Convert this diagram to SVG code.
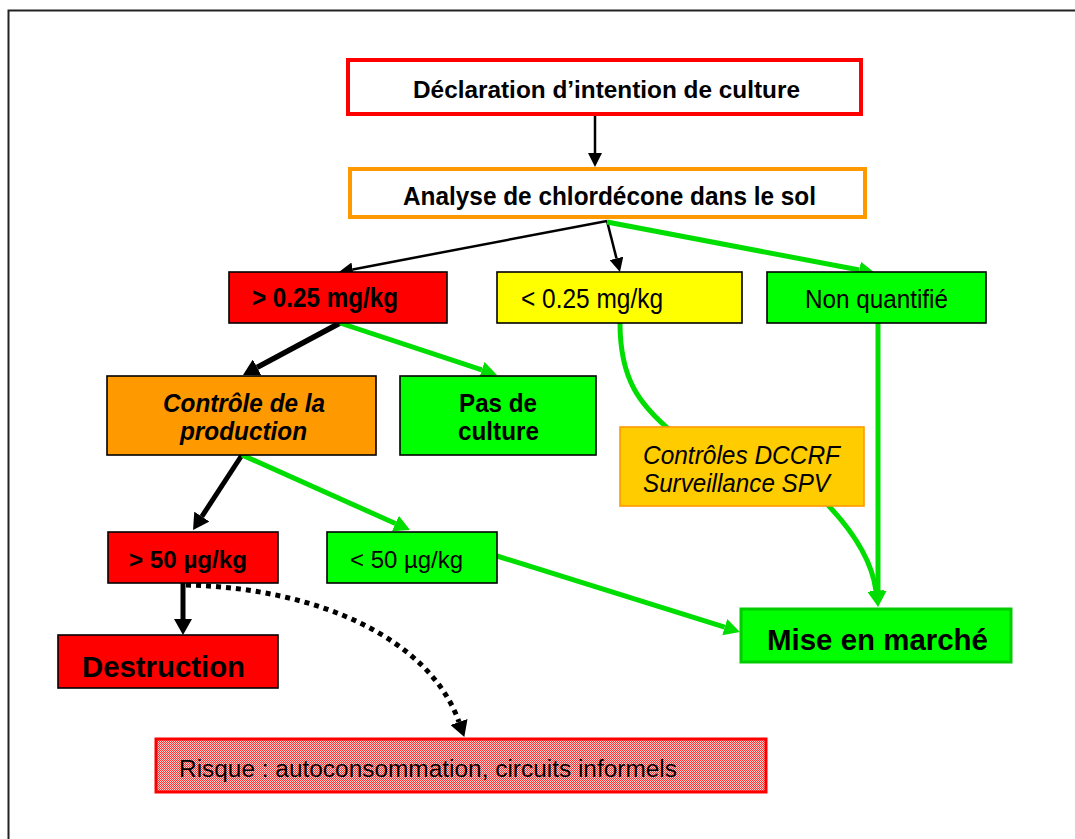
<svg xmlns="http://www.w3.org/2000/svg" width="1075" height="839" viewBox="0 0 1075 839">
<style>
  text { font-family: "Liberation Sans", Arial, sans-serif; fill: #000; }
  .b { font-weight: bold; }
  .i { font-style: italic; }
  .box { stroke: #000; stroke-width: 1.6; }
  .cb { fill: none; stroke: #000; }
  .cg { fill: none; stroke: #00DD00; stroke-width: 5; }
</style>
<defs>
  <marker id="ab" viewBox="0 0 10 10" refX="0" refY="5" markerWidth="14" markerHeight="14" markerUnits="userSpaceOnUse" orient="auto">
    <path d="M0,0 L10,5 L0,10 z" fill="#000"/>
  </marker>
  <marker id="abt" viewBox="0 0 10 10" refX="0" refY="5" markerWidth="16" markerHeight="18" markerUnits="userSpaceOnUse" orient="auto" preserveAspectRatio="none">
    <path d="M0,0 L10,5 L0,10 z" fill="#000"/>
  </marker>
  <marker id="ag" viewBox="0 0 10 10" refX="0" refY="5" markerWidth="16" markerHeight="17" markerUnits="userSpaceOnUse" orient="auto" preserveAspectRatio="none">
    <path d="M0,0 L10,5 L0,10 z" fill="#00DD00"/>
  </marker>
  <pattern id="hatch" width="2" height="2" patternUnits="userSpaceOnUse">
    <rect width="2" height="2" fill="#FFD0D0"/>
    <rect width="1" height="1" fill="#FF3030"/>
    <rect x="1" y="1" width="1" height="1" fill="#FF3030"/>
  </pattern>
</defs>
<rect width="1075" height="839" fill="#fff"/>
<rect x="8.5" y="10.5" width="1100" height="900" fill="none" stroke="#222" stroke-width="2"/>

<g id="connectors">
  <path class="cb" stroke-width="2.5" d="M595,116 L595,153" marker-end="url(#ab)"/>
  <path class="cb" stroke-width="2.5" d="M607,221 L352.7,269.4" marker-end="url(#ab)"/>
  <path class="cb" stroke-width="2.5" d="M607,221 L616.5,258.4" marker-end="url(#ab)"/>
  <path class="cg" d="M607,222 L859.3,270" marker-end="url(#ag)"/>
  <path class="cb" stroke-width="5.5" d="M340,323 L257.1,367.4" marker-end="url(#abt)"/>
  <path class="cg" d="M340,323 L481.8,369.9" marker-end="url(#ag)"/>
  <path class="cb" stroke-width="5" d="M242,455 L201.8,516.6" marker-end="url(#abt)"/>
  <path class="cg" d="M242,455 L395.4,523.5" marker-end="url(#ag)"/>
  <path class="cb" stroke-width="5" d="M183,583 L183,619" marker-end="url(#abt)"/>
  <path class="cg" d="M497,556 L724.7,627.2" marker-end="url(#ag)"/>
  <path class="cg" d="M878,323 L878,591" marker-end="url(#ag)"/>
  <path class="cg" d="M620,323 C620,380 640,405 672,432 L826,503 C852,530 872,560 876,591" marker-end="url(#ag)"/>
  <path class="cb" stroke-width="5" stroke-dasharray="5 5" d="M186,585 C320,588 430,640 459,722" marker-end="url(#abt)"/>
</g>

<g id="n-declaration">
  <rect x="348" y="60" width="513" height="54" fill="#fff" stroke="#FF0000" stroke-width="4"/>
  <text class="b" x="413" y="98" font-size="24" textLength="387" lengthAdjust="spacingAndGlyphs">Déclaration d’intention de culture</text>
</g>
<g id="n-analyse">
  <rect x="350" y="169" width="515" height="48" fill="#fff" stroke="#FF9900" stroke-width="4"/>
  <text class="b" x="403" y="205" font-size="25" textLength="413" lengthAdjust="spacingAndGlyphs">Analyse de chlordécone dans le sol</text>
</g>
<g id="n-sup025">
  <rect class="box" x="229" y="272" width="218" height="51" fill="#FF0000"/>
  <text class="b" x="252" y="307" font-size="27" textLength="146" lengthAdjust="spacingAndGlyphs">&gt; 0.25 mg/kg</text>
</g>
<g id="n-inf025">
  <rect class="box" x="497" y="272" width="245" height="51" fill="#FFFF00"/>
  <text x="521" y="308" font-size="27" textLength="142" lengthAdjust="spacingAndGlyphs">&lt; 0.25 mg/kg</text>
</g>
<g id="n-nonquant">
  <rect class="box" x="767" y="272" width="219" height="51" fill="#00FF00"/>
  <text x="805" y="308" font-size="25.5" textLength="143" lengthAdjust="spacingAndGlyphs">Non quantifié</text>
</g>
<g id="n-controle">
  <rect class="box" x="107" y="376" width="269" height="79" fill="#FF9900"/>
  <text class="b i" x="163" y="412" font-size="25" textLength="162" lengthAdjust="spacingAndGlyphs">Contrôle de la</text>
  <text class="b i" x="180" y="440" font-size="25" textLength="127" lengthAdjust="spacingAndGlyphs">production</text>
</g>
<g id="n-pasculture">
  <rect class="box" x="400" y="376" width="196" height="79" fill="#00FF00"/>
  <text class="b" x="459" y="412" font-size="25" textLength="78" lengthAdjust="spacingAndGlyphs">Pas de</text>
  <text class="b" x="458" y="440" font-size="25" textLength="81" lengthAdjust="spacingAndGlyphs">culture</text>
</g>
<g id="n-dccrf">
  <rect x="620" y="427" width="244" height="79" fill="#FFCC00" stroke="#FF9900" stroke-width="1.6"/>
  <text class="i" x="643" y="464" font-size="26" textLength="197" lengthAdjust="spacingAndGlyphs">Contrôles DCCRF</text>
  <text class="i" x="643" y="492" font-size="26" textLength="187" lengthAdjust="spacingAndGlyphs">Surveillance SPV</text>
</g>
<g id="n-sup50">
  <rect class="box" x="108" y="532" width="170" height="51" fill="#FF0000"/>
  <text class="b" x="129" y="568" font-size="24" textLength="118" lengthAdjust="spacingAndGlyphs">&gt; 50 µg/kg</text>
</g>
<g id="n-inf50">
  <rect class="box" x="327" y="532" width="170" height="51" fill="#00FF00"/>
  <text x="350" y="568" font-size="24" textLength="113" lengthAdjust="spacingAndGlyphs">&lt; 50 µg/kg</text>
</g>
<g id="n-destruction">
  <rect class="box" x="58" y="635" width="220" height="53" fill="#FF0000"/>
  <text class="b" x="82" y="677" font-size="30" textLength="163" lengthAdjust="spacingAndGlyphs">Destruction</text>
</g>
<g id="n-marche">
  <rect x="741" y="609" width="270" height="53" fill="#00FF00" stroke="#00CC00" stroke-width="3"/>
  <text class="b" x="767" y="650" font-size="30" textLength="221" lengthAdjust="spacingAndGlyphs">Mise en marché</text>
</g>
<g id="n-risque">
  <rect x="156" y="739" width="610" height="53" fill="url(#hatch)" stroke="#FF0000" stroke-width="3"/>
  <text x="179" y="777" font-size="23" textLength="498" lengthAdjust="spacingAndGlyphs">Risque : autoconsommation, circuits informels</text>
</g>
</svg>
